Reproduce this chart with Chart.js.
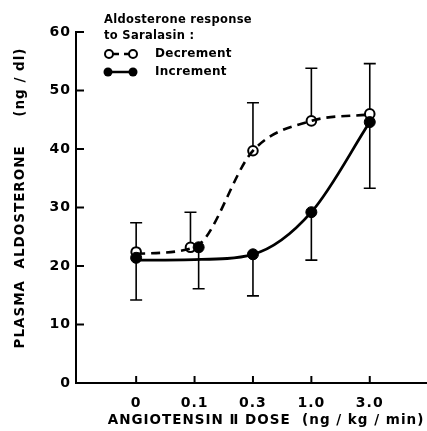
<!DOCTYPE html>
<html>
<head>
<meta charset="utf-8">
<script src="https://cdn.jsdelivr.net/npm/chart.js@4.4.1/dist/chart.umd.min.js"></script>
<style>
  html, body { margin: 0; padding: 0; background: #fff; }
  #wrap { width: 427px; height: 431px; }
</style>
</head>
<body>
<div id="wrap"><canvas id="aldoChart" width="427" height="431"></canvas></div>
<script>
// angiotensin II dose (ng/kg/min)
const doses = ['0', '0.1', '0.3', '1.0', '3.0'];
const yTicks = [0, 10, 20, 30, 40, 50, 60];

// Decrement group (open circles, dashed curve)
const decMean = [22.4, 23.2, 39.7, 44.8, 46.0];
const decUpper = [27.4, 29.2, 47.9, 53.8, 54.6];
const decCurve = [22.1, 23.2, 39.7, 44.8, 45.9];

// Increment group (filled circles, solid curve)
const incMean = [21.4, 23.2, 22.0, 29.2, 44.6];
const incLower = [14.2, 16.1, 14.9, 21.0, 33.3];
const incCurve = [21.0, 21.1, 22.0, 29.2, 44.6];

const FONT = 'DejaVu Sans';
const shift = 0.07; // the two 0.1 points are drawn side by side

function xAt(i, dir) {
    return i === 1 ? i + dir * shift : i;
}

const decorations = {
    id: 'decorations',
    beforeDraw(chart) {
        chart.ctx.save();
        chart.ctx.letterSpacing = '1px';
    },
    beforeDatasetsDraw(chart) {
        const ctx = chart.ctx;
        const xs = chart.scales.x, ys = chart.scales.y;
        ctx.save();
        ctx.strokeStyle = '#000';
        ctx.lineWidth = 1.6;
        const cap = 6;
        function bar(x, y0, y1) {
            const px = xs.getPixelForValue(x);
            const p0 = ys.getPixelForValue(y0);
            const p1 = ys.getPixelForValue(y1);
            ctx.beginPath();
            ctx.moveTo(px, p0);
            ctx.lineTo(px, p1);
            ctx.moveTo(px - cap, p1);
            ctx.lineTo(px + cap, p1);
            ctx.stroke();
        }
        doses.forEach((d, i) => {
            bar(xAt(i, -1), decMean[i], decUpper[i]);
            bar(xAt(i, 1), incMean[i], incLower[i]);
        });
        ctx.restore();
    },
    afterDraw(chart) {
        const ctx = chart.ctx;
        const xs = chart.scales.x, ys = chart.scales.y;
        const area = chart.chartArea;
        ctx.save();
        ctx.strokeStyle = '#000';
        ctx.fillStyle = '#000';
        ctx.lineWidth = 2;

        // inward tick marks
        yTicks.forEach(v => {
            if (v === 0) return;
            const py = ys.getPixelForValue(v);
            ctx.beginPath();
            ctx.moveTo(area.left, py);
            ctx.lineTo(area.left + 8, py);
            ctx.stroke();
        });
        doses.forEach((d, i) => {
            const px = xs.getPixelForValue(i);
            ctx.beginPath();
            ctx.moveTo(px, area.bottom);
            ctx.lineTo(px, area.bottom - 7);
            ctx.stroke();
        });

        // axis titles
        ctx.font = 'bold 13.5px "' + FONT + '"';
        ctx.textAlign = 'center';
        ctx.textBaseline = 'middle';
        ctx.fillText('ANGIOTENSIN \u2161 DOSE  (ng / kg / min)', 266, 420);
        ctx.save();
        ctx.translate(20, 198);
        ctx.rotate(-Math.PI / 2);
        ctx.fillText('PLASMA  ALDOSTERONE     (ng / dl)', 0, 0);
        ctx.restore();

        // legend
        ctx.textAlign = 'left';
        ctx.letterSpacing = '0.3px';
        ctx.font = 'bold 11.5px "' + FONT + '"';
        ctx.fillText('Aldosterone response', 104, 20);
        ctx.fillText('to Saralasin :', 104, 36);

        ctx.lineWidth = 2.5;
        ctx.setLineDash([7, 5]);
        ctx.beginPath();
        ctx.moveTo(112, 54);
        ctx.lineTo(130, 54);
        ctx.stroke();
        ctx.setLineDash([]);
        [109, 133].forEach(cx => {
            ctx.beginPath();
            ctx.arc(cx, 54, 4, 0, Math.PI * 2);
            ctx.fillStyle = '#fff';
            ctx.fill();
            ctx.lineWidth = 2;
            ctx.stroke();
        });
        ctx.fillStyle = '#000';
        ctx.lineWidth = 2.5;
        ctx.beginPath();
        ctx.moveTo(108, 72);
        ctx.lineTo(133, 72);
        ctx.stroke();
        [108, 133].forEach(cx => {
            ctx.beginPath();
            ctx.arc(cx, 72, 4.5, 0, Math.PI * 2);
            ctx.fill();
        });
        ctx.font = 'bold 12px "' + FONT + '"';
        ctx.fillText('Decrement', 155, 54);
        ctx.fillText('Increment', 155, 72);
        ctx.restore();
        ctx.restore();
    }
};

const ctx = document.getElementById('aldoChart').getContext('2d');
new Chart(ctx, {
    type: 'line',
    data: {
        datasets: [
            {
                label: 'Decrement curve',
                data: decCurve.map((v, i) => ({ x: i, y: v })),
                borderColor: '#000',
                borderWidth: 2.6,
                borderDash: [9, 6],
                pointRadius: 0,
                cubicInterpolationMode: 'monotone',
                fill: false
            },
            {
                label: 'Increment curve',
                data: incCurve.map((v, i) => ({ x: i, y: v })),
                borderColor: '#000',
                borderWidth: 2.8,
                pointRadius: 0,
                cubicInterpolationMode: 'monotone',
                fill: false
            },
            {
                label: 'Increment',
                data: incMean.map((v, i) => ({ x: xAt(i, 1), y: v })),
                showLine: false,
                pointRadius: 5.5,
                pointBackgroundColor: '#000',
                pointBorderColor: '#000',
                pointBorderWidth: 1
            },
            {
                label: 'Decrement',
                data: decMean.map((v, i) => ({ x: xAt(i, -1), y: v })),
                showLine: false,
                pointRadius: 4.8,
                pointBackgroundColor: '#fff',
                pointBorderColor: '#000',
                pointBorderWidth: 2
            }
        ]
    },
    options: {
        responsive: false,
        animation: false,
        devicePixelRatio: 1,
        layout: { autoPadding: false, padding: { top: 32, right: 0, left: 0, bottom: 0 } },
        plugins: {
            legend: { display: false },
            tooltip: { enabled: false }
        },
        scales: {
            x: {
                type: 'linear',
                min: -1.03,
                max: 4.98,
                afterBuildTicks: s => { s.ticks = doses.map((d, i) => ({ value: i })); },
                afterFit: s => { s.height = 48; s.paddingLeft = 0; s.paddingRight = 0; },
                grid: { display: false },
                border: { display: true, color: '#000', width: 2 },
                ticks: {
                    color: '#000',
                    padding: 4,
                    font: { family: FONT, size: 14, weight: 'bold' },
                    callback: v => doses[v]
                }
            },
            y: {
                min: 0,
                max: 60,
                afterBuildTicks: s => { s.ticks = yTicks.map(v => ({ value: v })); },
                afterFit: s => { s.width = 76; s.paddingTop = 0; s.paddingBottom = 0; },
                grid: { display: false },
                border: { display: true, color: '#000', width: 2 },
                ticks: {
                    color: '#000',
                    padding: -3,
                    font: { family: FONT, size: 14, weight: 'bold' }
                }
            }
        }
    },
    plugins: [decorations]
});
</script>
</body>
</html>
